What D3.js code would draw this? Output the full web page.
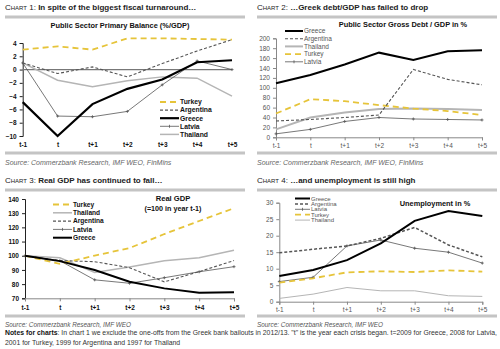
<!DOCTYPE html><meta charset="utf-8">
<title>Crisis comparison</title>
<style>
  body{margin:0;background:#fff}
  svg{display:block}
  text{font-family:"Liberation Sans",Arial,sans-serif}
</style>
<script src="https://d3js.org/d3.v7.min.js"></script>
<body><script>
const periods = ["t-1","t","t+1","t+2","t+3","t+4","t+5"];

// chart 1: primary balance, % of GDP
const pbTurkey    = [3.0, 3.5, 3.0, 4.7, 4.7, 4.6, 4.5];
const pbArgentina = [1.0, -0.6, 0.4, -1.1, 0.9, 2.8, 4.5];
const pbGreece    = [-4.9, -10.0, -5.2, -2.9, -1.5, 1.1, 1.4];
const pbLatvia    = [1.0, -7.0, -7.1, -6.3, -2.3, 1.3, 0.0];
const pbThailand  = [1.0, -1.6, -2.6, -1.7, -1.1, -1.3, -4.0];

// chart 2: gross debt, % of GDP
const debtGreece    = [109, 126, 147, 171, 156, 174, 176];
const debtArgentina = [33, 36, 40, 45, 137, 117, 106];
const debtThailand  = [16, 40, 50, 57, 58, 57, 55];
const debtTurkey    = [48, 77, 73, 65, 58, 53, 45];
const debtLatvia    = [7, 16, 32, 40, 37, 36, 35];

// chart 3: real GDP, t-1 = 100
const gdpTurkey    = [100, 94.3, 100.1, 105.4, 115.3, 124.5, 133.5];
const gdpThailand  = [100, 98.6, 88.2, 92.1, 96.5, 98.6, 103.9];
const gdpArgentina = [100, 96.6, 95.8, 91.6, 81.6, 88.8, 96.6];
const gdpLatvia    = [100, 96.5, 83.0, 80.6, 84.5, 88.7, 92.3];
const gdpGreece    = [100, 96.2, 90.0, 81.7, 77.0, 74.0, 74.2];

// chart 4: unemployment, %
const unGreece    = [7.8, 9.6, 12.6, 17.7, 24.5, 27.5, 26.0];
const unArgentina = [14.8, 15.9, 16.9, 19.2, 22.5, 17.2, 13.6];
const unLatvia    = [6.1, 7.4, 16.9, 18.7, 16.2, 15.0, 11.7];
const unTurkey    = [5.8, 7.1, 8.9, 9.2, 9.0, 9.5, 9.1];
const unThailand  = [1.0, 2.3, 4.3, 3.3, 3.3, 1.8, 1.6];

const yTicks1 = [-10,-8,-6,-4,-2,0,2,4];
const yTicks2 = [0,20,40,60,80,100,120,140,160,180,200];
const yTicks3 = [70,80,90,100,110,120,130,140];
const yTicks4 = [0,5,10,15,20,25,30];

const style = {
  Turkey:    {stroke:"#e6c43a", w:1.8, dash:"6,4"},
  Argentina: {stroke:"#555",    w:1.1, dash:"3,2"},
  Greece:    {stroke:"#000",    w:2.0, dash:null},
  Latvia:    {stroke:"#555",    w:0.8, dash:null, mark:true},
  Thailand:  {stroke:"#b5b5b5", w:1.5, dash:null}
};

const svg = d3.select("body").append("svg").attr("width",500).attr("height",349);
svg.append("rect").attr("width",500).attr("height",349).attr("fill","#fff");

function header(x, y, num, txt){
  const t = svg.append("text").attr("x",x).attr("y",y).attr("font-size",8).attr("fill","#222");
  t.append("tspan").text("C");
  t.append("tspan").attr("font-size",6).text("HART");
  t.append("tspan").text(" "+num+": ");
  t.append("tspan").attr("font-weight","bold").text(txt);
  svg.append("line").attr("x1",x).attr("x2",x+240).attr("y1",y+7).attr("y2",y+7)
    .attr("stroke","#c4c4c4").attr("stroke-width",3);
}

function footerRule(x, y){
  svg.append("line").attr("x1",x).attr("x2",x+240).attr("y1",y).attr("y2",y)
    .attr("stroke","#c4c4c4").attr("stroke-width",3);
}

function chart(o){
  const x = d3.scalePoint().domain(periods).range(o.xr);
  const y = d3.scaleLinear().domain(o.yd).range(o.yr);
  const g = svg.append("g");
  const lab = o.bold ? "#111" : "#555";

  // y axis
  const ya = g.append("g").attr("transform",`translate(${o.xr[0]},0)`)
    .call(d3.axisLeft(y).tickValues(o.yt).tickSize(3).tickPadding(3));
  ya.select(".domain").attr("stroke", o.bold ? "#222" : "#888");
  ya.selectAll(".tick line").attr("stroke", o.bold ? "#222" : "#888");
  ya.selectAll("text").attr("font-size",6.5).attr("fill",lab)
    .attr("font-weight",o.bold?"bold":"normal").attr("font-family","Liberation Sans, Arial");

  // x axis
  const xa = g.append("g").attr("transform",`translate(0,${o.xAxisY})`)
    .call(d3.axisBottom(x).tickSize(o.xLine?3:0).tickPadding(o.xPad));
  xa.select(".domain").attr("stroke", o.xLine ? "#888" : "none");
  xa.selectAll(".tick line").attr("stroke","#888");
  xa.selectAll("text").attr("font-size",6.5).attr("fill",lab)
    .attr("font-weight",o.bold?"bold":"normal").attr("font-family","Liberation Sans, Arial");

  if(o.zero!==undefined){
    g.append("line").attr("x1",o.xr[0]).attr("x2",o.xr[1])
      .attr("y1",y(o.zero)).attr("y2",y(o.zero)).attr("stroke","#777").attr("stroke-width",1.3);
  }

  const line = d3.line().x((d,i)=>x(periods[i])).y(d=>y(d));
  o.series.forEach(([name, vals])=>{
    const s = style[name];
    g.append("path").datum(vals).attr("d",line).attr("fill","none")
      .attr("stroke",s.stroke).attr("stroke-width",(o.w&&o.w[name])||s.w)
      .attr("stroke-dasharray",s.dash);
    if(s.mark){
      g.selectAll(null).data(vals).join("path")
        .attr("d",(d,i)=>`M${x(periods[i])-1.5},${y(d)}h3M${x(periods[i])},${y(d)-1.5}v3`)
        .attr("stroke",s.stroke).attr("stroke-width",0.8);
    }
  });

  // legend
  const L = o.legend;
  L.names.forEach((name,i)=>{
    const s = style[name], yy = L.y + i*L.dy;
    g.append("line").attr("x1",L.x).attr("x2",L.x+L.len).attr("y1",yy).attr("y2",yy)
      .attr("stroke",s.stroke).attr("stroke-width",(o.w&&o.w[name])||s.w)
      .attr("stroke-dasharray",s.dash);
    if(s.mark) g.append("path").attr("d",`M${L.x+L.len/2},${yy-1.5}v3`).attr("stroke",s.stroke).attr("stroke-width",0.8);
    g.append("text").attr("x",L.x+L.len+1).attr("y",yy).attr("dy","0.35em")
      .attr("font-size",L.fs).attr("fill",o.bold?"#111":"#555")
      .attr("font-weight",o.bold?"bold":"normal").text(name);
  });

  o.titles.forEach(t=>{
    g.append("text").attr("x",t[0]).attr("y",t[1]).attr("text-anchor","middle")
      .attr("font-size",t[3]||7).attr("font-weight","bold").attr("fill","#111").text(t[2]);
  });
}

// ---- chart 1 ----
header(5, 10, 1, "In spite of the biggest fiscal turnaround…");
chart({xr:[22.7,232], yd:[-10,4], yr:[136,43], yt:yTicks1, bold:true,
  xAxisY:136, xLine:false, xPad:6, zero:0,
  series:[["Thailand",pbThailand],["Latvia",pbLatvia],["Argentina",pbArgentina],["Turkey",pbTurkey],["Greece",pbGreece]],
  w:{Greece:2.2},
  legend:{x:160, y:102, dy:8.1, len:19, fs:6.8, names:["Turkey","Argentina","Greece","Latvia","Thailand"]},
  titles:[[120,28,"Public Sector Primary Balance (%/GDP)",7.4]]});
footerRule(5, 153);
svg.append("text").attr("x",5).attr("y",165).attr("font-size",7).attr("font-style","italic")
  .attr("fill","#666").text("Source: Commerzbank Research, IMF WEO, FinMins");

// ---- chart 2 ----
header(257, 10, 2, "…Greek debt/GDP has failed to drop");
chart({xr:[276,482], yd:[0,200], yr:[137.3,38.3], yt:yTicks2, bold:false,
  xAxisY:137.3, xLine:true, xPad:3,
  series:[["Thailand",debtThailand],["Latvia",debtLatvia],["Turkey",debtTurkey],["Argentina",debtArgentina],["Greece",debtGreece]],
  w:{Thailand:2},
  legend:{x:285, y:31, dy:7.7, len:18, fs:6.5, names:["Greece","Argentina","Thailand","Turkey","Latvia"]},
  titles:[[403,27,"Public Sector Gross Debt / GDP in %",7.4]]});
footerRule(257, 153);
svg.append("text").attr("x",257).attr("y",165).attr("font-size",7).attr("font-style","italic")
  .attr("fill","#666").text("Source: Commerzbank Research, IMF WEO, FinMins");

// ---- chart 3 ----
header(5, 183, 3, "Real GDP has continued to fall…");
chart({xr:[25,234], yd:[70,140], yr:[298.3,199], yt:yTicks3, bold:true,
  xAxisY:298.3, xLine:true, xPad:4,
  series:[["Thailand",gdpThailand],["Argentina",gdpArgentina],["Latvia",gdpLatvia],["Turkey",gdpTurkey],["Greece",gdpGreece]],
  legend:{x:53, y:204.5, dy:8.3, len:19, fs:6.6, names:["Turkey","Thailand","Argentina","Latvia","Greece"]},
  titles:[[173,200.5,"Real GDP",7.6],[173,210.5,"(=100 in year t-1)",7.2]]});
footerRule(5, 316);

// ---- chart 4 ----
header(257, 183, 4, "…and unemployment is still high");
chart({xr:[279.3,482.3], yd:[0,30], yr:[301.7,202.7], yt:yTicks4, bold:false,
  xAxisY:301.7, xLine:true, xPad:3,
  series:[["Thailand",unThailand],["Latvia",unLatvia],["Turkey",unTurkey],["Argentina",unArgentina],["Greece",unGreece]],
  w:{Argentina:1.5, Thailand:1},
  legend:{x:295, y:198.5, dy:5.4, len:15, fs:6, names:["Greece","Argentina","Latvia","Turkey","Thailand"]},
  titles:[[435,205.5,"Unemployment in %",7.4]]});
footerRule(257, 316);

// sources + notes
svg.append("text").attr("x",5).attr("y",327).attr("font-size",6.4).attr("font-style","italic")
  .attr("fill","#555").text("Source: Commerzbank Research, IMF WEO");
svg.append("text").attr("x",257).attr("y",327).attr("font-size",6.4).attr("font-style","italic")
  .attr("fill","#555").text("Source: Commerzbank Research, IMF WEO");
const n1 = svg.append("text").attr("x",5).attr("y",335).attr("font-size",6.85).attr("fill","#333");
n1.append("tspan").attr("font-weight","bold").attr("fill","#111").text("Notes for charts");
n1.append("tspan").text(": In chart 1 we exclude the one-offs from the Greek bank bailouts in 2012/13. \"t\" is the year each crisis began. t=2009 for Greece, 2008 for Latvia,");
svg.append("text").attr("x",5).attr("y",345).attr("font-size",6.85).attr("fill","#333")
  .text("2001 for Turkey, 1999 for Argentina and 1997 for Thailand");
</script>
